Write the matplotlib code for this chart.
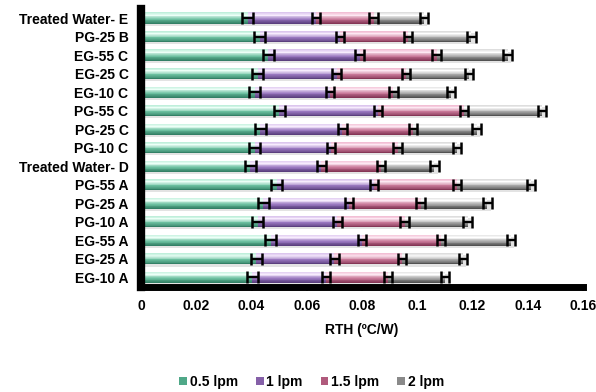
import matplotlib
matplotlib.use('Agg')
import matplotlib.pyplot as plt
import numpy as np
from matplotlib.colors import LinearSegmentedColormap
from matplotlib.patches import Patch
from matplotlib.ticker import FuncFormatter

plt.rcParams['font.family'] = ['Liberation Sans', 'DejaVu Sans']
plt.rcParams['font.weight'] = 'bold'

# categories bottom -> top
categories = ['EG-10 A', 'EG-25 A', 'EG-55 A', 'PG-10 A', 'PG-25 A', 'PG-55 A',
              'Treated Water- D', 'PG-10 C', 'PG-25 C', 'PG-55 C', 'EG-10 C',
              'EG-25 C', 'EG-55 C', 'PG-25 B', 'Treated Water- E']

lpm_05 = [0.0402, 0.0418, 0.0470, 0.0423, 0.0443, 0.0492, 0.0395, 0.0412,
          0.0431, 0.0500, 0.0412, 0.0422, 0.0460, 0.0429, 0.0386]
lpm_1 = [0.0267, 0.0282, 0.0331, 0.0288, 0.0309, 0.0352, 0.0258, 0.0276,
         0.0298, 0.0358, 0.0271, 0.0286, 0.0331, 0.0292, 0.0248]
lpm_15 = [0.0225, 0.0244, 0.0285, 0.0243, 0.0260, 0.0299, 0.0216, 0.0241,
          0.0255, 0.0312, 0.0231, 0.0252, 0.0279, 0.0245, 0.0208]
lpm_2 = [0.0206, 0.0221, 0.0254, 0.0228, 0.0242, 0.0270, 0.0193, 0.0214,
         0.0231, 0.0282, 0.0208, 0.0228, 0.0257, 0.0230, 0.0183]

series_names = ['0.5 lpm', '1 lpm', '1.5 lpm', '2 lpm']
series_vals = [lpm_05, lpm_1, lpm_15, lpm_2]
series_err = [0.002, 0.0015, 0.0015, 0.0015]

xticks = [0, 0.02, 0.04, 0.06, 0.08, 0.1, 0.12, 0.14, 0.16]

# gradient profiles (top -> bottom)
profiles = [
    ['#b8ecd6', '#ecfff7', '#6cc0a0', '#2e7a60'],
    ['#d8c0ec', '#f7ecfd', '#9a78c0', '#553a78'],
    ['#f0b8d0', '#fde8f2', '#c87898', '#7e3050'],
    ['#d8d8d8', '#ffffff', '#a8a8a8', '#4a4a4a'],
]
legend_colors = ['#4fa888', '#8560a8', '#b05a7c', '#8a8a8a']

fig = plt.figure(figsize=(5.96, 3.92), dpi=100)
ax = fig.add_axes([141/596, 105.5/392, (583-141)/596, (286.5-8.8)/392])

n = len(categories)
y = np.arange(n)
h = 0.6
nb = 14

totals = np.sum(np.array(series_vals), axis=0)
ax.barh(y - 0.12, totals + 0.0012, height=h, color='#b0b0b0', alpha=0.35,
        linewidth=0, zorder=1)

left = np.zeros(n)
for vals, prof, err in zip(series_vals, profiles, series_err):
    vals = np.array(vals)
    cmap = LinearSegmentedColormap.from_list('g', list(zip([0, 0.25, 0.6, 1.0], prof)))
    for k in range(nb):
        frac = (k + 0.5) / nb
        yc = y + h/2 - (k + 0.5) * h / nb
        ax.barh(yc, vals, left=left, height=h/nb*1.08, color=cmap(frac),
                linewidth=0, zorder=2)
    ax.errorbar(left + vals, y, xerr=err, fmt='none', ecolor='black',
                elinewidth=1.7, capsize=4.2, capthick=1.8, zorder=4)
    left = left + vals

ax.set_xlim(0, 0.16)
ax.set_ylim(-0.5, n - 0.5)
ax.set_yticks(y)
ax.set_yticklabels(categories)
ax.set_xticks(xticks)
ax.xaxis.set_major_formatter(FuncFormatter(lambda v, p: '%g' % v))

for s in ['top', 'right']:
    ax.spines[s].set_visible(False)
ax.spines['left'].set_linewidth(6)
ax.spines['bottom'].set_linewidth(5)
ax.spines['left'].set_zorder(5)
ax.spines['bottom'].set_zorder(5)

ax.tick_params(axis='y', length=0, pad=9, labelsize=10)
ax.tick_params(axis='x', length=3, width=1.5, pad=6, labelsize=10)
ax.set_xlabel('RTH (ºC/W)', fontsize=10, fontweight='bold', labelpad=7)

handles = [Patch(facecolor=c, edgecolor='none', label=nm)
           for c, nm in zip(legend_colors, series_names)]
fig.legend(handles=handles, loc='center', bbox_to_anchor=(0.523, 0.026),
           ncol=4, frameon=False, fontsize=10, handlelength=0.55,
           handleheight=0.55, handletextpad=0.2, columnspacing=1.3)

fig.savefig('out.png', dpi=100)
